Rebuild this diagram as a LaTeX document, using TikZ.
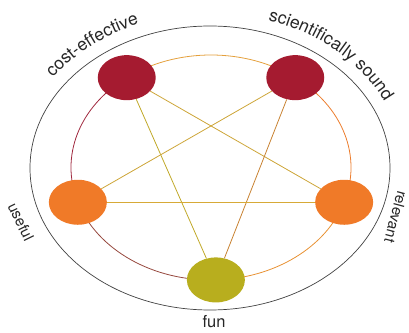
\documentclass[tikz,border=0pt]{standalone}
\usepackage{fontspec}
\setmainfont{TeX Gyre Heros}
\usetikzlibrary{shapes.geometric,decorations.text,calc,backgrounds}
\definecolor{crimson}{RGB}{165,27,48}
\definecolor{tangerine}{RGB}{240,122,40}
\definecolor{funolive}{RGB}{184,174,30}
\definecolor{gold}{RGB}{205,165,55}
\newcommand\goalfont{\fontsize{17.5}{19}\selectfont}

\begin{document}
\begin{tikzpicture}[x=1pt,y=1pt,
   goal/.style={ellipse,minimum width=58pt,minimum height=45pt,inner sep=0pt},
   link/.style={draw=gold,line width=0.8pt},
   ring/.style={line width=0.8pt},
   ringarc/.style={x radius=140pt,y radius=112.5pt},
   labelarc/.style={x radius=193pt,y radius=155pt},
   goaltext/.style={font=\fontsize{16.5}{18}\selectfont,text=black!85,inner sep=0pt},
   sidetext/.style={goaltext,font=\fontsize{15}{17}\selectfont}]
\useasboundingbox (0,0) rectangle (409,332);
\coordinate (rim) at (210,164);
\coordinate (c) at (211,164.5);
\draw[black!75,line width=0.7pt] (rim) ellipse[x radius=180pt,y radius=142pt];

\node[goal,fill=crimson] (cost) at ($(c)+(127:140pt and 112.5pt)$) {};
\node[goal,fill=crimson] (sound) at ($(c)+(53:140pt and 112.5pt)$) {};
\node[goal,fill=tangerine] (useful) at ($(c)+(198:140pt and 112.5pt)$) {};
\node[goal,fill=tangerine] (relevant) at ($(c)+(342:140pt and 112.5pt)$) {};
\node[goal,fill=funolive] (fun) at ($(c)+(272:140pt and 112.5pt)$) {};

\begin{scope}[on background layer]
\draw[ring,draw={rgb,255:red,228;green,160;blue,60}] (sound.center) arc[start angle=53,end angle=127,ringarc];
\draw[ring,draw={rgb,255:red,160;green,40;blue,62}] (cost.center) arc[start angle=127,end angle=198,ringarc];
\draw[ring,draw={rgb,255:red,150;green,72;blue,62}] (useful.center) arc[start angle=198,end angle=272,ringarc];
\draw[ring,draw={rgb,255:red,232;green,145;blue,50}] (fun.center) arc[start angle=272,end angle=342,ringarc];
\draw[ring,draw={rgb,255:red,236;green,125;blue,45}] (relevant.center) arc[start angle=-18,end angle=53,ringarc];
\end{scope}

\draw[link] (cost) -- (relevant);
\draw[link,draw={rgb,255:red,192;green,168;blue,40}] (cost) -- (fun);
\draw[link] (sound) -- (useful);
\draw[link,draw={rgb,255:red,200;green,130;blue,50}] (sound) -- (fun);
\draw[link,draw={rgb,255:red,215;green,170;blue,55}] (useful) -- (relevant);

\path[decorate,decoration={text along path,text align=center,
   text={|\goalfont\color{black!85}|cost-effective}}]
   ($(rim)+(170:193pt and 155pt)$) arc[start angle=170,end angle=90,labelarc];
\path[decorate,decoration={text along path,text align=center,
   text={|\goalfont\color{black!85}|scientifically sound}}]
   ($(rim)+(90:193pt and 155pt)$) arc[start angle=90,end angle=4,labelarc];
\node[sidetext,rotate=-64] (usefullabel) at (21,110) {useful};
\node[sidetext,rotate=-105] (relevantlabel) at (396,115) {relevant};
\node[goaltext] (funlabel) at (214,10) {fun};
\end{tikzpicture}
\end{document}
